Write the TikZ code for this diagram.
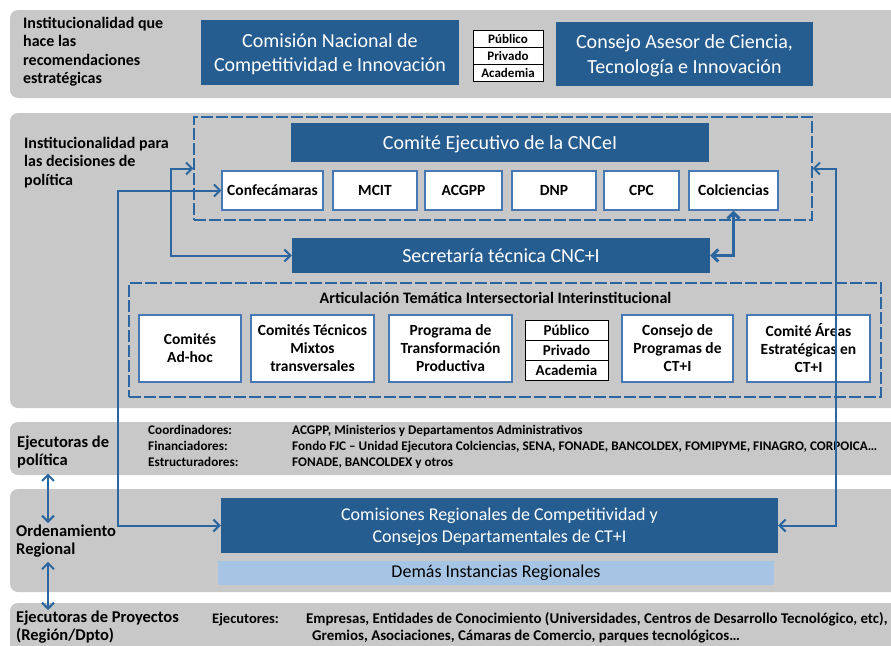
\documentclass[tikz,border=0pt]{standalone}
\usepackage{fontspec}
\setmainfont{Carlito}
\usetikzlibrary{arrows.meta}
\definecolor{bandgray}{RGB}{200,200,200}
\definecolor{navy}{RGB}{38,93,145}
\definecolor{linkblue}{RGB}{44,102,160}
\definecolor{boxline}{RGB}{70,120,180}
\definecolor{paleblue}{RGB}{166,197,228}
\begin{document}
\begin{tikzpicture}[x=1pt, y=-1pt,
  band/.style={fill=bandgray, rounded corners=8pt},
  navybox/.style={fill=navy, text=white, inner sep=0pt, align=center, text depth=0pt, font=\fontsize{20}{24.5}\selectfont},
  whitebox/.style={draw=boxline, fill=white, line width=1.2pt, inner sep=0pt, align=center, font=\fontsize{15.5}{18}\selectfont\bfseries},
  ppacell/.style={draw=black, fill=white, line width=1pt, inner sep=0pt},
  dashbox/.style={draw=linkblue, line width=1.1pt, dash pattern=on 12pt off 3pt, inner sep=0pt},
  lbl/.style={anchor=north west, align=left, inner sep=0pt, font=\fontsize{16}{18.5}\selectfont\bfseries},
  small/.style={anchor=base west, inner sep=0pt, font=\fontsize{13.2}{16}\selectfont\bfseries},
  link/.style={draw=linkblue, line width=2pt, {Straight Barb[length=6pt,width=12pt]}-{Straight Barb[length=6pt,width=12pt]}}
]
\useasboundingbox (0,0) rectangle (891,645);
\clip (0,0) rectangle (891,645);

% gray bands
\foreach \t/\b in {10/98, 113/408, 422/475, 489/592, 603/670}
  \fill[band] (10,\t) rectangle (900,\b);

\node[lbl] (lbl1) at (23,17) {Institucionalidad que\\hace las\\recomendaciones\\estratégicas};
\node[lbl] (lbl2) at (24,137) {Institucionalidad para\\las decisiones de\\política};
\node[lbl, font=\fontsize{16.5}{18}\selectfont\bfseries] (lbl3) at (17,436) {Ejecutoras de\\política};
\node[lbl, font=\fontsize{16.5}{18}\selectfont\bfseries] (lbl4) at (16,525) {Ordenamiento\\Regional};
\node[lbl, font=\fontsize{16.5}{18}\selectfont\bfseries] (lbl5) at (16,611) {Ejecutoras de Proyectos\\(Región/Dpto)};

% top row
\node[navybox, minimum width=258, minimum height=65] (cnci) at (330,52.5) {Comisión Nacional de\\Competitividad e Innovación};
\foreach \y/\t [count=\i] in {38.7/Público, 56/Privado, 73.3/Academia}
  \node[ppacell, minimum width=70, minimum height=17.3, font=\fontsize{13}{13}\selectfont\bfseries] (ppa\i) at (508,\y) {\t};
\node[navybox, minimum width=257, minimum height=64] (casci) at (684.5,54) {Consejo Asesor de Ciencia,\\Tecnología e Innovación};

% decisiones de politica
\node[dashbox, minimum width=618, minimum height=103] (cej) at (503,168.5) {};
\node[navybox, minimum width=418, minimum height=39] (ce) at (500,142.5) {Comité Ejecutivo de la CNCeI};
\foreach \x/\w/\n/\t in {272.5/101/conf/Confecámaras, 375/84/mcit/MCIT, 463.5/77/acgpp/ACGPP, 554/84/dnp/DNP, 641.5/75/cpc/CPC, 733.5/89/colc/Colciencias}
  \node[whitebox, minimum width=\w, minimum height=39] (\n) at (\x,190.5) {\t};
\node[navybox, minimum width=418, minimum height=35] (sec) at (501,255.5) {Secretaría técnica CNC+I};

\node[dashbox, minimum width=752, minimum height=114] (art) at (505,340) {};
\node[anchor=base, inner sep=0pt, font=\fontsize{16}{18}\selectfont\bfseries] (artt) at (495.5,303) {Articulación Temática Intersectorial Interinstitucional};
\foreach \x/\w/\n/\t in {190/102/adhoc/{Comités\\Ad-hoc}, 312.5/123/ctm/{Comités Técnicos\\Mixtos\\transversales}, 450.5/123/ptp/{Programa de\\Transformación\\Productiva}, 677.5/111/cpct/{Consejo de\\Programas de\\CT+I}, 808.5/123/cae/{Comité Áreas\\Estratégicas en\\CT+I}}
  \node[whitebox, minimum width=\w, minimum height=67] (\n) at (\x,348.5) {\t};
\foreach \y/\t [count=\i] in {330.5/Público, 350.5/Privado, 370.5/Academia}
  \node[ppacell, minimum width=83, minimum height=20, font=\fontsize{15}{15}\selectfont\bfseries] (ppb\i) at (566.5,\y) {\t};

% ejecutoras
\foreach \y/\a/\b [count=\i] in {434/Coordinadores:/{ACGPP, Ministerios y Departamentos Administrativos}, 450/Financiadores:/{Fondo FJC – Unidad Ejecutora Colciencias, SENA, FONADE, BANCOLDEX, FOMIPYME, FINAGRO, CORPOICA…}, 466/Estructuradores:/{FONADE, BANCOLDEX y otros}}
  {\node[small] (rol\i) at (148,\y) {\a};
   \node[small] (who\i) at (292,\y) {\b};}

% regional
\node[navybox, minimum width=557, minimum height=55, font=\fontsize{18}{22}\selectfont] (comreg) at (499.5,525.5) {Comisiones Regionales de Competitividad y\\Consejos Departamentales de CT+I};
\node[fill=paleblue, minimum width=556, minimum height=24, inner sep=0pt, font=\fontsize{18}{20}\selectfont] (demas) at (496,573) {Demás Instancias Regionales};

\node[small, font=\fontsize{14.5}{16}\selectfont\bfseries] (ejec) at (212,623) {Ejecutores:};
\node[small, font=\fontsize{14.9}{16}\selectfont\bfseries] (ent1) at (306,623) {Empresas, Entidades de Conocimiento (Universidades, Centros de Desarrollo Tecnológico, etc),};
\node[small, font=\fontsize{14.9}{16}\selectfont\bfseries] (ent2) at (312,640) {Gremios, Asociaciones, Cámaras de Comercio, parques tecnológicos…};

% connectors
\coordinate (lrail) at (118,0);
\coordinate (mrail) at (171,0);
\coordinate (rrail) at (836,0);
\coordinate (arail) at (48,0);
\draw[link] (conf.west) -- (conf.west -| lrail) |- (comreg.west);
\draw[link] (cej.west) -- (cej.west -| mrail) |- (sec.west);
\draw[link, line width=3pt] (colc.south) |- (sec.east);
\draw[link] (cej.east) -- (cej.east -| rrail) |- (comreg.east);
\draw[link, shorten <=5pt, shorten >=2pt] (lbl3.south -| arail) -- (lbl4.north -| arail);
\draw[link, shorten <=4pt, shorten >=1pt] (lbl4.south -| arail) -- (lbl5.north -| arail);
\end{tikzpicture}
\end{document}
